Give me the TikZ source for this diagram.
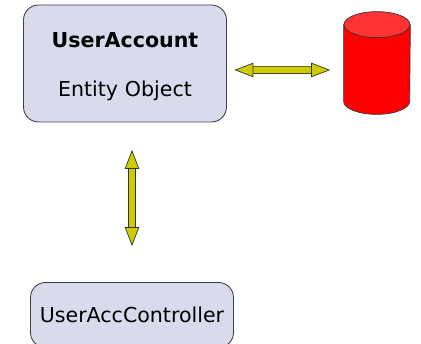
\documentclass[tikz,border=0pt]{standalone}
\usepackage{fontspec}
\setmainfont{DejaVu Sans}
\usetikzlibrary{arrows.meta}
\definecolor{boxfill}{HTML}{D9DBED}
\definecolor{arrowfill}{HTML}{CCCC00}
\definecolor{dbtop}{HTML}{FF3333}
\tikzset{
	objectbox/.style={draw=black!75, fill=boxfill, rounded corners=0.3cm, line width=0.5pt, text width=3.825cm, align=center, font=\fontsize{11.7}{14}\selectfont},
	dbline/.style={draw=black!80, line width=0.4pt},
	blockarrow/.style={draw=black!80, line width=0.4pt, double=arrowfill, double distance=0.13cm, {Triangle[length=0.38cm,width=0.29cm,fill=arrowfill,color=black!80,line width=0.4pt]}-{Triangle[length=0.38cm,width=0.29cm,fill=arrowfill,color=black!80,line width=0.4pt]}},
}
\begin{document}
\begin{tikzpicture}
	
	\useasboundingbox (0,0) rectangle (8.42,-6.88);
	
	%nodes
	\node (userAccount) at (2.5,-1.27) [objectbox, minimum height=2.34cm]{\rule{0pt}{0.42cm}\textbf{UserAccount}\\[0.48cm]Entity Object};
	
	\node (userController) at (2.64,-6.3) [objectbox, minimum height=1.3cm]{UserAccController};
	
	\node (database) at (7.54,-1.26) [minimum width=1.32cm, minimum height=2.04cm, inner sep=0pt]{};
	
	%cylinder of the database
	\draw[dbline, fill=red] ([yshift=-0.26cm]database.north west) -- ([yshift=0.26cm]database.south west) arc[start angle=180, end angle=360, x radius=0.66cm, y radius=0.26cm] -- ([yshift=-0.26cm]database.north east) -- cycle;
	
	\draw[dbline, fill=dbtop] ([yshift=-0.26cm]database.north) ellipse[x radius=0.66cm, y radius=0.26cm];
	
	%connections
	\draw[blockarrow] ([xshift=0.15cm,yshift=-0.13cm]userAccount.east) -- ([xshift=-0.27cm,yshift=-0.14cm]database.west);
	
	\draw[blockarrow] ([yshift=0.72cm]userController.north) -- ([xshift=0.14cm,yshift=-0.55cm]userAccount.south);
	
\end{tikzpicture}
\end{document}
